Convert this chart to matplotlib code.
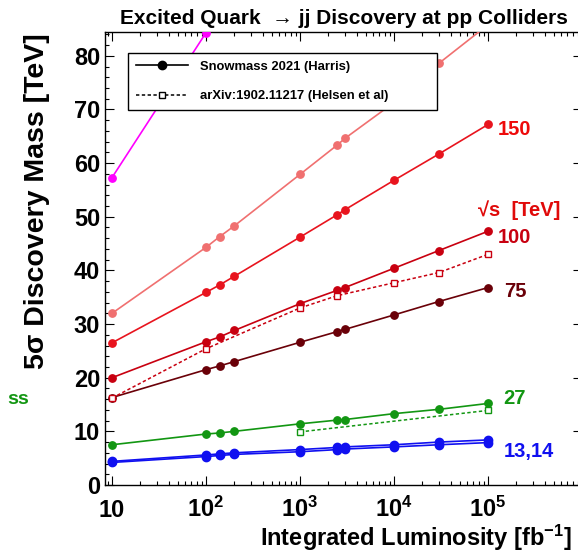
import matplotlib
matplotlib.use('Agg')
import matplotlib.pyplot as plt
from matplotlib.lines import Line2D
from matplotlib.ticker import LogLocator, NullFormatter, MultipleLocator

# ---------------- data ----------------
lumi = [10, 100, 140, 200, 1000, 2500, 3000, 10000, 30000, 100000]
mass_13 = [4.2, 5.3, 5.5, 5.7, 6.2, 6.6, 6.7, 7.1, 7.5, 7.9]
mass_14 = [4.4, 5.6, 5.8, 6.0, 6.6, 7.0, 7.1, 7.5, 8.0, 8.4]
mass_27 = [7.5, 9.5, 9.7, 10.0, 11.4, 12.1, 12.2, 13.3, 14.1, 15.2]
mass_75 = [16.3, 21.5, 22.2, 23.0, 26.6, 28.6, 29.0, 31.7, 34.2, 36.8]
mass_100 = [20.0, 26.7, 27.6, 28.8, 33.8, 36.3, 36.8, 40.4, 43.7, 47.3]
mass_150 = [26.5, 35.9, 37.3, 38.9, 46.2, 50.4, 51.3, 56.8, 61.7, 67.2]
mass_300 = [32.0, 44.3, 46.3, 48.3, 57.9, 63.4, 64.6, 71.3, 78.6, 85.8]
lumi_1000 = [10, 100]
mass_1000 = [57.3, 84.3]

lumi_helsen_100 = [10, 100, 1000, 2500, 10000, 30000, 100000]
mass_helsen_100 = [16.2, 25.4, 33.0, 35.3, 37.7, 39.6, 43.0]
lumi_helsen_27 = [1000, 100000]
mass_helsen_27 = [9.9, 13.9]

xtick_values = [10, 100, 1000, 10000, 100000]
xtick_labels = ['10', '$10^{2}$', '$10^{3}$', '$10^{4}$', '$10^{5}$']
legend_labels = ['Snowmass 2021 (Harris)', 'arXiv:1902.11217 (Helsen et al)']

# ---------------- style ----------------
plt.rcParams['font.family'] = ['Liberation Sans', 'DejaVu Sans']
plt.rcParams['font.weight'] = 'bold'
plt.rcParams['mathtext.fontset'] = 'custom'
plt.rcParams['mathtext.rm'] = 'Liberation Sans:bold'
plt.rcParams['mathtext.bf'] = 'Liberation Sans:bold'
plt.rcParams['mathtext.it'] = 'Liberation Sans:bold:italic'
plt.rcParams['mathtext.sf'] = 'Liberation Sans:bold'
plt.rcParams['axes.linewidth'] = 1.0

C_MAG = '#ff00ff'
C_300 = '#f07070'
C_150 = '#e8141e'
C_100 = '#c80010'
C_75 = '#6a0008'
C_GREEN = '#129612'
C_BLUE = '#1010f0'

fig = plt.figure(figsize=(5.78, 5.52), dpi=100)
ax = fig.add_axes([0.1817, 0.1214, 0.8253, 0.8212])
ax.set_xscale('log')
ax.set_xlim(8.43, 1e6)
ax.set_ylim(0, 84.5)


def harris(x, y, color, ms=5.3):
    ax.plot(x, y, color=color, lw=1.2, marker='o', ms=ms, mfc=color, mec=color, zorder=3)


def helsen(x, y, color):
    ax.plot(x, y, color=color, lw=1.1, ls=(0, (2.2, 1.6)), marker='s', ms=5,
            mfc='white', mec=color, mew=1.0, zorder=4)


harris(lumi_1000, mass_1000, C_MAG)
harris(lumi, mass_300, C_300)
harris(lumi, mass_150, C_150)
harris(lumi, mass_100, C_100)
harris(lumi, mass_75, C_75)
harris(lumi, mass_27, C_GREEN)
harris(lumi, mass_13, C_BLUE, ms=6)
harris(lumi, mass_14, C_BLUE, ms=6)
helsen(lumi_helsen_100, mass_helsen_100, C_100)
helsen(lumi_helsen_27, mass_helsen_27, C_GREEN)

# ---------------- axes / ticks ----------------
ax.set_xticks(xtick_values, xtick_labels)
ax.xaxis.set_minor_locator(LogLocator(base=10, subs=range(2, 10), numticks=30))
ax.xaxis.set_minor_formatter(NullFormatter())
ax.yaxis.set_major_locator(MultipleLocator(10))
ax.yaxis.set_minor_locator(MultipleLocator(2))
ax.tick_params(which='both', direction='in', top=True, right=True, width=0.8, color='black')
ax.tick_params(which='major', length=6.5)
ax.tick_params(which='minor', length=3.2)
ax.tick_params(axis='y', labelsize=17, pad=3.5)
ax.tick_params(axis='x', labelsize=17, pad=23.0)
for lab in ax.get_xticklabels():
    lab.set_va('baseline')

ax.set_title('Excited Quark  \u2192 jj Discovery at pp Colliders', fontsize=15,
             fontweight='bold', pad=5.5)

ax.set_xlabel('Integrated Luminosity [fb$^{-1}$]', fontsize=17, fontweight='bold')
ax.xaxis.label.set_ha('right')
ax.xaxis.label.set_va('baseline')
ax.xaxis.set_label_coords(0.978, -0.1335)

ax.set_ylabel('5\u03c3 Discovery Mass [TeV]', fontsize=20.5, fontweight='bold')
ax.yaxis.label.set_ha('right')
ax.yaxis.label.set_va('center')
ax.yaxis.set_label_coords(-0.1436, 0.997)

# ---------------- right-hand labels ----------------
ax.text(1.28e5, 66.3, '150', color='#ee0a0a', fontsize=14.5, fontweight='bold', va='center', ha='left')
ax.text(7.8e4, 51.3, '\u221as  [TeV]', color='#e00a0a', fontsize=14.5, fontweight='bold', va='center', ha='left')
ax.text(1.28e5, 46.2, '100', color=C_100, fontsize=14.5, fontweight='bold', va='center', ha='left')
ax.text(1.48e5, 36.0, '75', color=C_75, fontsize=14.5, fontweight='bold', va='center', ha='left')
ax.text(1.45e5, 16.2, '27', color=C_GREEN, fontsize=14.5, fontweight='bold', va='center', ha='left')
ax.text(1.48e5, 6.2, '13,14', color=C_BLUE, fontsize=14.5, fontweight='bold', va='center', ha='left')

fig.text(7 / 578, 1 - 400 / 552, 'ss', color=C_GREEN, fontsize=14, fontweight='bold', va='center', ha='left')

# ---------------- legend ----------------
handles = [
    Line2D([], [], color='black', lw=1.2, marker='o', ms=6),
    Line2D([], [], color='black', lw=1.1, ls=(0, (2.2, 1.6)), marker='s', ms=5,
           mfc='white', mec='black', mew=1.0),
]
leg = ax.legend(handles, legend_labels, loc='upper left',
                bbox_to_anchor=(0.0482, 0.5, 0.6478, 0.453), mode='expand',
                borderaxespad=0, fancybox=False, edgecolor='black', framealpha=1,
                prop={'size': 9.4, 'weight': 'bold'}, handlelength=4.0,
                handletextpad=0.9, labelspacing=1.33, borderpad=0.6)
leg.get_frame().set_linewidth(1.0)
leg.set_zorder(10)

fig.savefig('out.png', dpi=100)
